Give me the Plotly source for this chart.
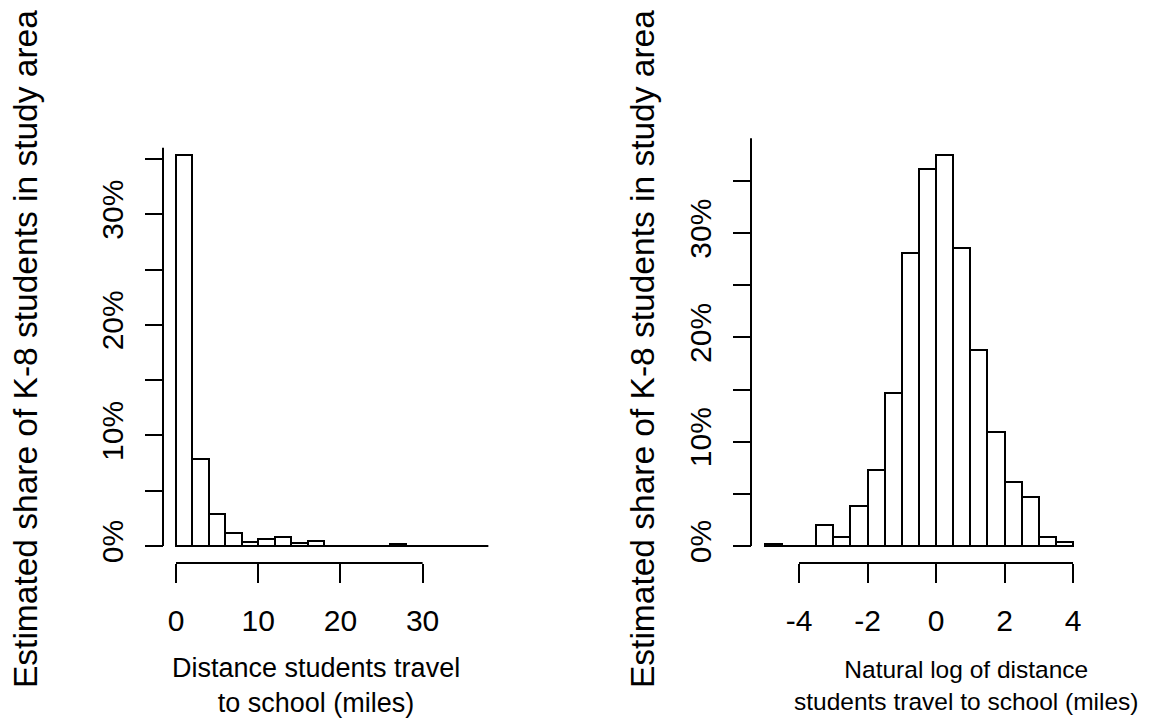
import plotly.graph_objects as go

W, H = 1151, 726
OFF = 8  # default page body margin in the browser

# ---------------- data ----------------
# Left: distance (miles), bins of width 2 from 0 to 38
dist_edges_start = 0
dist_bin_width = 2
dist_share = [35.35, 7.85, 2.9, 1.15, 0.4, 0.63, 0.85, 0.25, 0.45,
              0, 0, 0, 0, 0.2, 0, 0, 0, 0, 0]
dist_xticks = [0, 10, 20, 30]

# Right: natural log of distance, bins of width 0.5 from -5 to 4
ln_edges_start = -5
ln_bin_width = 0.5
ln_share = [0.22, 0, 0, 2.0, 0.83, 3.87, 7.28, 14.7, 28.05, 36.1,
            37.5, 28.6, 18.8, 10.9, 6.1, 4.66, 0.83, 0.42]
ln_xticks = [-4, -2, 0, 2, 4]

y_tickvals = [0, 5, 10, 15, 20, 25, 30, 35]
y_ticktext = ["0%", "", "10%", "", "20%", "", "30%", ""]

y_title = "Estimated share of K-8 students in study area"
left_x_title = "Distance students travel<br>to school (miles)"
right_x_title = "Natural log of distance<br>students travel to school (miles)"

FONT = "Liberation Sans, Arial, Helvetica, sans-serif"
TICK_FS = 30
LEFT_TITLE_FS = 27
RIGHT_TITLE_FS = 24.5
YTITLE_FS = 33.5

# ---------------- pixel geometry helpers (screen pixels -> paper) ----------------
def px_x(p):
    return (p - OFF) / W

def px_y(p):
    return (H - (p - OFF)) / H

panels = {
    # screen pixel of value 0, pixels per unit
    "L": dict(ox=176, kx=8.22, oy=546, ky=11.06, dx=(150, 500), dy=(120, 600),
              yaxis_px=163, xaxis_px=563, ytop=36.0),
    "R": dict(ox=936, kx=34.25, oy=546, ky=10.43, dx=(740, 1100), dy=(120, 600),
              yaxis_px=751, xaxis_px=563, ytop=39.1),
}

def ranges(p):
    xr = [(p["dx"][0] - p["ox"]) / p["kx"], (p["dx"][1] - p["ox"]) / p["kx"]]
    yr = [(p["oy"] - p["dy"][1]) / p["ky"], (p["oy"] - p["dy"][0]) / p["ky"]]
    xd = [px_x(p["dx"][0]), px_x(p["dx"][1])]
    yd = [px_y(p["dy"][1]), px_y(p["dy"][0])]
    return xr, yr, xd, yd

fig = go.Figure()

def centers(start, w, n):
    return [start + w * (i + 0.5) for i in range(n)]

fig.add_trace(go.Bar(
    x=centers(dist_edges_start, dist_bin_width, len(dist_share)), y=dist_share,
    width=dist_bin_width, marker=dict(color="white", line=dict(color="black", width=2)),
    xaxis="x", yaxis="y", showlegend=False, hoverinfo="skip"))
fig.add_trace(go.Bar(
    x=centers(ln_edges_start, ln_bin_width, len(ln_share)), y=ln_share,
    width=ln_bin_width, marker=dict(color="white", line=dict(color="black", width=2)),
    xaxis="x2", yaxis="y2", showlegend=False, hoverinfo="skip"))

layout = dict(
    template="none",
    width=W, height=H, autosize=False,
    margin=dict(l=0, r=0, t=0, b=0, pad=0),
    paper_bgcolor="white", plot_bgcolor="rgba(0,0,0,0)",
    font=dict(family=FONT, color="black"),
    bargap=0, showlegend=False,
)

shapes = []
annotations = []
for key, sfx, xticks, start, w, n in [("L", "", dist_xticks, dist_edges_start, dist_bin_width, len(dist_share)),
                                      ("R", "2", ln_xticks, ln_edges_start, ln_bin_width, len(ln_share))]:
    p = panels[key]
    xr, yr, xd, yd = ranges(p)
    layout["xaxis" + sfx] = dict(
        domain=xd, range=xr, anchor="free", position=px_y(p["xaxis_px"]),
        showgrid=False, zeroline=False, showline=False, automargin=False,
        ticks="outside", ticklen=19, tickwidth=2, tickcolor="black",
        tickvals=xticks, ticktext=[str(t) for t in xticks],
        tickfont=dict(size=TICK_FS, family=FONT, color="black"),
        ticklabelstandoff=12, fixedrange=True)
    layout["yaxis" + sfx] = dict(
        domain=yd, range=yr, anchor="free", position=px_x(p["yaxis_px"]),
        showgrid=False, zeroline=False, showline=False, automargin=False,
        ticks="outside", ticklen=18, tickwidth=2, tickcolor="black",
        tickvals=y_tickvals, ticktext=y_ticktext, tickangle=-90,
        tickfont=dict(size=TICK_FS, family=FONT, color="black"),
        ticklabelstandoff=10, fixedrange=True)
    # axis lines (R style: only between extreme ticks)
    shapes.append(dict(type="line", xref="x" + sfx, yref="paper",
                       x0=xticks[0], x1=xticks[-1],
                       y0=px_y(p["xaxis_px"]), y1=px_y(p["xaxis_px"]),
                       line=dict(color="black", width=2)))
    shapes.append(dict(type="line", xref="paper", yref="y" + sfx,
                       x0=px_x(p["yaxis_px"]), x1=px_x(p["yaxis_px"]),
                       y0=0, y1=p["ytop"],
                       line=dict(color="black", width=2)))
    # baseline of the histogram across all bins
    shapes.append(dict(type="line", xref="x" + sfx, yref="y" + sfx,
                       x0=start, x1=start + w * n, y0=0, y1=0,
                       line=dict(color="black", width=2)))

def ann(text, cx, cy, size, angle=0):
    return dict(text=text, x=px_x(cx), y=px_y(cy), xref="paper", yref="paper",
                xanchor="center", yanchor="middle", textangle=angle, showarrow=False,
                font=dict(size=size, family=FONT, color="black"))

annotations.append(ann(y_title, 25, 349, YTITLE_FS, -90))
annotations.append(ann(y_title, 642, 349, YTITLE_FS, -90))
annotations.append(ann(left_x_title, 316, 685, LEFT_TITLE_FS))
annotations.append(ann(right_x_title, 966, 685, RIGHT_TITLE_FS))

layout["shapes"] = shapes
layout["annotations"] = annotations
fig.update_layout(**layout)
fig.write_html("out.html")
